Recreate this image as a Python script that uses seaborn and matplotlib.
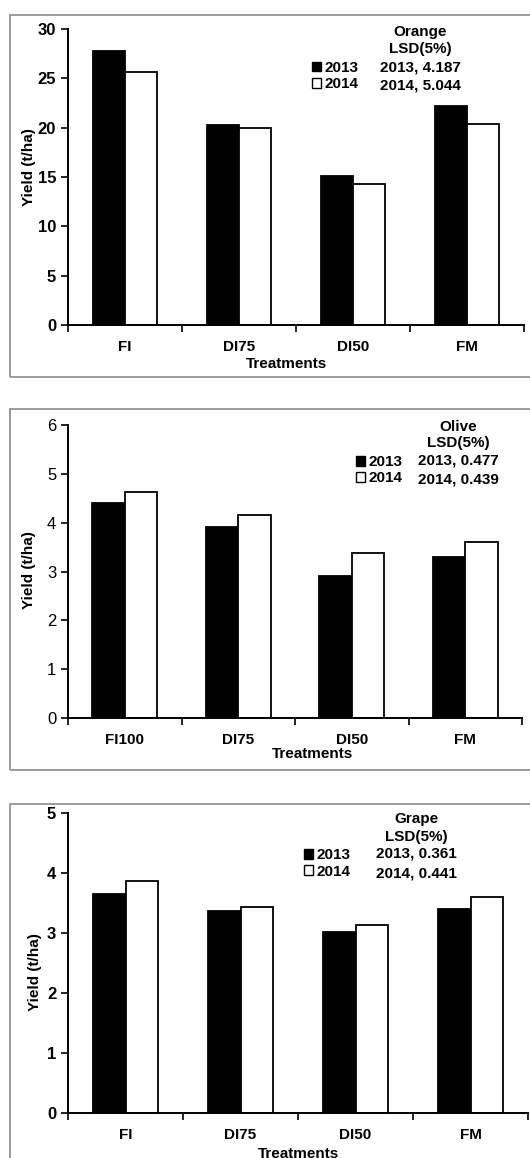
import matplotlib
matplotlib.use("Agg")
import matplotlib.pyplot as plt
from matplotlib.patches import Rectangle, Patch
import seaborn as sns
import pandas as pd

# ---------------- data ----------------
years = ["2013", "2014"]

orange_treat = ["FI", "DI75", "DI50", "FM"]
orange_2013 = [27.8, 20.3, 15.1, 22.2]
orange_2014 = [25.6, 20.0, 14.3, 20.4]
orange_lsd = ["2013, 4.187", "2014, 5.044"]

olive_treat = ["FI100", "DI75", "DI50", "FM"]
olive_2013 = [4.41, 3.91, 2.90, 3.30]
olive_2014 = [4.62, 4.15, 3.38, 3.60]
olive_lsd = ["2013, 0.477", "2014, 0.439"]

grape_treat = ["FI", "DI75", "DI50", "FM"]
grape_2013 = [3.65, 3.37, 3.02, 3.40]
grape_2014 = [3.87, 3.43, 3.14, 3.60]
grape_lsd = ["2013, 0.361", "2014, 0.441"]

# ---------------- style ----------------
sns.set_theme(style="white")
plt.rcParams["font.family"] = ["Liberation Sans", "DejaVu Sans"]
for k in ["text.color", "axes.labelcolor", "xtick.color", "ytick.color", "axes.edgecolor"]:
    plt.rcParams[k] = "black"

FS = 11
YFS = 12

W, H = 530, 1158
fig = plt.figure(figsize=(W / 100, H / 100), dpi=100)
fig.patch.set_facecolor("white")

def fx(x):
    return x / W

def fy(y):
    return 1 - y / H

palette = {"2013": "black", "2014": "white"}

panels = [
    dict(name="Orange", treat=orange_treat, v13=orange_2013, v14=orange_2014, lsd=orange_lsd,
         ymax=30, ystep=5, box=(68, 524, 29, 325), border=(10, 15, 377),
         tcx=420, rows=(32, 49, 67, 85), legx=312, tickbold=True,
         xl=(287, 357), yl=(36, 167)),
    dict(name="Olive", treat=olive_treat, v13=olive_2013, v14=olive_2014, lsd=olive_lsd,
         ymax=6, ystep=1, box=(68, 522, 425, 718), border=(10, 409, 770),
         tcx=458, rows=(427, 443.5, 461, 479.5), legx=356, tickbold=False,
         xl=(312, 747), yl=(36, 570)),
    dict(name="Grape", treat=grape_treat, v13=grape_2013, v14=grape_2014, lsd=grape_lsd,
         ymax=5, ystep=1, box=(68, 528, 813, 1113), border=(10, 804, 1175),
         tcx=416, rows=(819.5, 837, 854, 873), legx=304, tickbold=True,
         xl=(298, 1147), yl=(42, 972)),
]

for p in panels:
    # panel border
    bx, btop, bbot = p["border"]
    fig.patches.append(Rectangle((fx(bx), fy(bbot)), fx(600), fy(btop) - fy(bbot),
                                 transform=fig.transFigure, fill=False,
                                 edgecolor="#8a8a8a", linewidth=1.2, zorder=0))

    l, r, t, b = p["box"]
    ax = fig.add_axes([fx(l), fy(b), fx(r - l), fy(t) - fy(b)])
    ax.set_facecolor("none")

    df = pd.DataFrame({
        "Treatment": p["treat"] * 2,
        "Yield": p["v13"] + p["v14"],
        "Year": [years[0]] * 4 + [years[1]] * 4,
    })
    sns.barplot(data=df, x="Treatment", y="Yield", hue="Year", palette=palette,
                edgecolor="black", linewidth=1.3, width=0.57, gap=0,
                ax=ax, legend=False, errorbar=None, saturation=1)

    ax.set_xlim(-0.5, 3.5)
    ax.set_ylim(0, p["ymax"])
    ax.set_yticks(list(range(0, p["ymax"] + 1, p["ystep"])))
    for s in ["top", "right"]:
        ax.spines[s].set_visible(False)
    for s in ["left", "bottom"]:
        ax.spines[s].set_color("black")
        ax.spines[s].set_linewidth(1.4)

    ax.set_xticks(range(4))
    ax.set_xticklabels(p["treat"], fontsize=FS, fontweight="bold")
    ax.set_xticks([-0.5, 0.5, 1.5, 2.5, 3.5], minor=True)
    ax.tick_params(axis="x", which="major", length=0, pad=10.5, colors="black")
    ax.tick_params(axis="x", which="minor", length=5, width=1.2, direction="out",
                   colors="black", bottom=True)
    ax.tick_params(axis="y", which="major", length=5, width=1.2, direction="out",
                   pad=3.5, labelsize=YFS, colors="black", left=True)
    for lab in ax.get_yticklabels():
        lab.set_fontweight("bold" if p["tickbold"] else "normal")

    ax.set_xlabel("Treatments", fontsize=FS, fontweight="bold", color="black")
    ax.xaxis.set_label_coords((p["xl"][0] - l) / (r - l), (b - p["xl"][1]) / (b - t))
    ax.set_ylabel("Yield (t/ha)", fontsize=FS, fontweight="bold", color="black")
    ax.yaxis.set_label_coords((p["yl"][0] - l) / (r - l), (b - p["yl"][1]) / (b - t))

    # annotation block
    rows = p["rows"]
    lines = [p["name"], "LSD(5%)"] + p["lsd"]
    for txt, yy in zip(lines, rows):
        fig.text(fx(p["tcx"]), fy(yy), txt, ha="center", va="center",
                 fontsize=FS, fontweight="bold", color="black")

    # legend
    handles = [Patch(facecolor=palette[y], edgecolor="black", linewidth=1.0) for y in years]
    leg = ax.legend(handles, years, loc="center left",
                    bbox_to_anchor=(fx(p["legx"]), fy((rows[2] + rows[3]) / 2)),
                    bbox_transform=fig.transFigure, frameon=False,
                    handlelength=0.6, handleheight=0.6, handletextpad=0.2,
                    labelspacing=0.15, borderpad=0, borderaxespad=0,
                    prop={"size": FS, "weight": "bold"})
    for tx in leg.get_texts():
        tx.set_color("black")

fig.savefig("out.png", dpi=100, facecolor="white")
